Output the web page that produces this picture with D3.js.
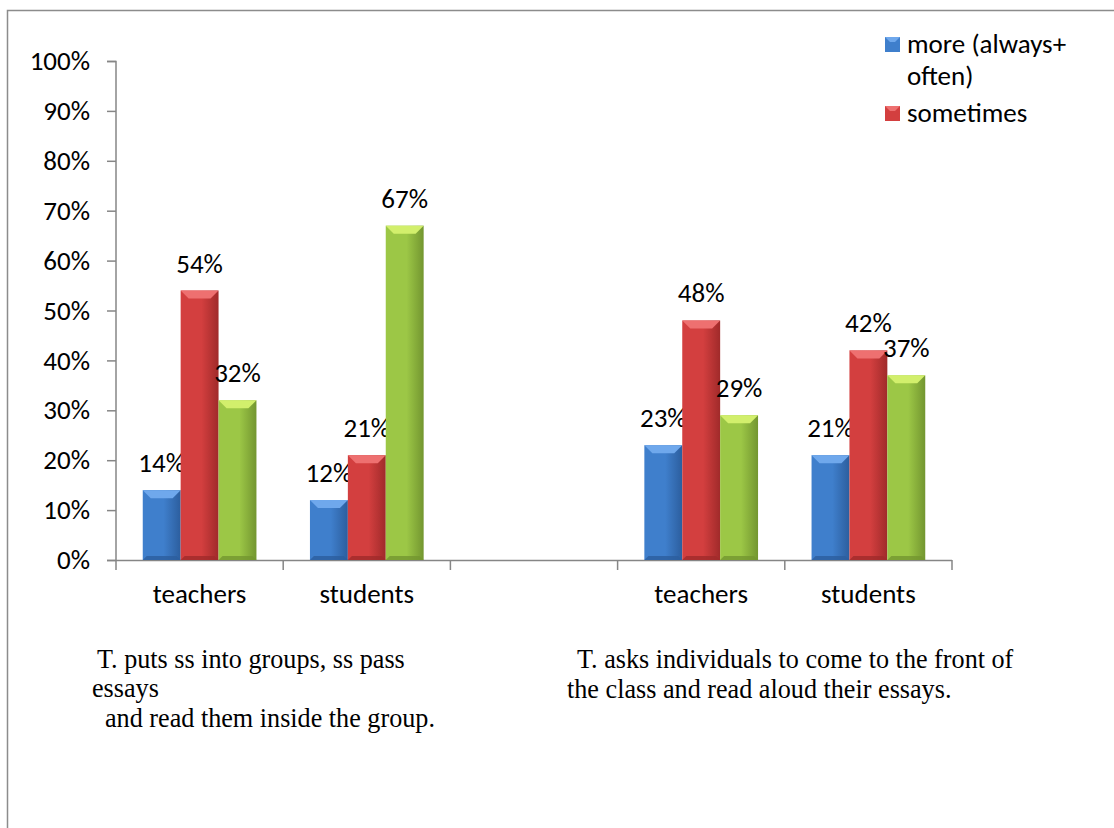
<!DOCTYPE html>
<html>
<head>
<meta charset="utf-8">
<script src="https://cdnjs.cloudflare.com/ajax/libs/d3/7.8.5/d3.min.js"></script>
<style>
  body { margin: 0; background: #fff; }
  svg text { font-family: Calibri, Carlito, Lato, sans-serif; fill: #000; }
  svg text.caption { font-family: "Times New Roman", "Liberation Serif", serif; }
</style>
</head>
<body>
<script>
// chart data
var categories = ["teachers", "students", "", "teachers", "students"];
var seriesNames = ["more (always+ often)", "sometimes", "never"];
var moreValues = [14, 12, null, 23, 21];
var sometimesValues = [54, 21, null, 48, 42];
var neverValues = [32, 67, null, 29, 37];
var yTicks = [0, 10, 20, 30, 40, 50, 60, 70, 80, 90, 100];
var legendLines = [["more (always+", "often)"], ["sometimes"]];
var captionLeft = ["T. puts ss into groups, ss pass", "essays", "and read them inside the group."];
var captionRight = ["T. asks individuals to come to the front of", "the class and read aloud their essays."];

var width = 1114, height = 828;
var fontSize = "27px";
var svg = d3.select("body").append("svg")
    .attr("width", width)
    .attr("height", height);

// outer frame (runs off the right and bottom edges)
svg.append("rect")
    .attr("x", 7.5).attr("y", 10.5)
    .attr("width", 1200).attr("height", 900)
    .attr("fill", "none")
    .attr("stroke", "#8c8c8c")
    .attr("stroke-width", 1.5);

var seriesValues = [moreValues, sometimesValues, neverValues];
var colors = [
    { light: "#6fa8ec", mid: "#3f7fcc", dark: "#2c5e9e" },
    { light: "#ee7070", mid: "#d33f3f", dark: "#a02a2a" },
    { light: "#d2ef6c", mid: "#9cc746", dark: "#739630" }
];

var defs = svg.append("defs");
colors.forEach(function (c, i) {
    var g = defs.append("linearGradient")
        .attr("id", "body" + i)
        .attr("x1", "0%").attr("x2", "100%").attr("y1", "0%").attr("y2", "0%");
    g.append("stop").attr("offset", "0%").attr("stop-color", c.mid);
    g.append("stop").attr("offset", "55%").attr("stop-color", c.mid);
    g.append("stop").attr("offset", "100%").attr("stop-color", c.dark);
});

var x = d3.scaleBand()
    .domain(d3.range(categories.length))
    .range([116, 952]);

var inner = d3.scaleBand()
    .domain(d3.range(seriesNames.length))
    .range([x.bandwidth() * 0.16, x.bandwidth() * 0.84]);

var y = d3.scaleLinear()
    .domain([0, 100])
    .range([560, 61]);

// y axis
var yAxis = svg.append("g")
    .attr("transform", "translate(116,0)")
    .call(d3.axisLeft(y).tickValues(yTicks).tickSize(9).tickPadding(17)
        .tickFormat(function (d) { return d + "%"; }));
yAxis.selectAll("path, line").attr("stroke", "#868686").attr("stroke-width", 1.5);
yAxis.select(".domain").attr("d", "M-9,61.5H0V560.5");
yAxis.selectAll("text").style("font-size", fontSize).attr("fill", "#000")
    .style("font-family", "Calibri, Carlito, Lato, sans-serif");

// x axis with ticks on category boundaries
var xg = svg.append("g");
xg.append("line")
    .attr("x1", 107).attr("x2", 952)
    .attr("y1", 560.5).attr("y2", 560.5)
    .attr("stroke", "#868686").attr("stroke-width", 1.5);
xg.selectAll("line.tick")
    .data(d3.range(categories.length + 1))
    .enter().append("line")
    .attr("class", "tick")
    .attr("x1", function (d) { return 116 + d * x.bandwidth(); })
    .attr("x2", function (d) { return 116 + d * x.bandwidth(); })
    .attr("y1", 560).attr("y2", 570)
    .attr("stroke", "#868686").attr("stroke-width", 1.5);
xg.selectAll("text")
    .data(categories)
    .enter().append("text")
    .attr("x", function (d, i) { return x(i) + x.bandwidth() / 2; })
    .attr("y", 603)
    .attr("text-anchor", "middle")
    .style("font-size", fontSize)
    .text(function (d) { return d; });

// bars
var bars = [];
seriesValues.forEach(function (vals, s) {
    vals.forEach(function (v, i) {
        if (v !== null) bars.push({ s: s, i: i, v: v });
    });
});

var barG = svg.append("g").selectAll("g")
    .data(bars)
    .enter().append("g");

barG.append("rect")
    .attr("x", function (d) { return x(d.i) + inner(d.s); })
    .attr("y", function (d) { return y(d.v); })
    .attr("width", inner.bandwidth())
    .attr("height", function (d) { return y(0) - y(d.v); })
    .attr("fill", function (d) { return "url(#body" + d.s + ")"; });

// top bevel
barG.append("path")
    .attr("d", function (d) {
        var x0 = x(d.i) + inner(d.s), x1 = x0 + inner.bandwidth(), t = y(d.v), b = 8;
        return "M" + x0 + "," + t + "H" + x1 + "L" + (x1 - b) + "," + (t + b) +
            "H" + (x0 + b) + "Z";
    })
    .attr("fill", function (d) { return colors[d.s].light; });

// bottom shade
barG.append("path")
    .attr("d", function (d) {
        var x0 = x(d.i) + inner(d.s), x1 = x0 + inner.bandwidth(), bt = y(0), b = 4;
        return "M" + x0 + "," + bt + "H" + x1 + "L" + (x1 - b) + "," + (bt - b) +
            "H" + (x0 + b) + "Z";
    })
    .attr("fill", function (d) { return colors[d.s].dark; })
    .attr("opacity", 0.8);

// value labels
barG.append("text")
    .attr("x", function (d) { return x(d.i) + inner(d.s) + inner.bandwidth() / 2; })
    .attr("y", function (d) { return y(d.v) - 18; })
    .attr("text-anchor", "middle")
    .style("font-size", fontSize)
    .text(function (d) { return d.v + "%"; });

// legend (only the first two entries are visible)
var legend = svg.append("g");
legendLines.forEach(function (lines, k) {
    var top = [37, 106][k];
    legend.append("rect")
        .attr("x", 885).attr("y", top)
        .attr("width", 15).attr("height", 15)
        .attr("fill", colors[k].mid);
    legend.append("path")
        .attr("d", "M885," + top + "H900L895," + (top + 5) + "H890Z")
        .attr("fill", colors[k].light);
    lines.forEach(function (ln, j) {
        legend.append("text")
            .attr("x", 907).attr("y", top + 16 + j * 32)
            .style("font-size", fontSize)
            .text(ln);
    });
});

// captions below the chart
function caption(lines, pos) {
    lines.forEach(function (ln, j) {
        svg.append("text")
            .attr("class", "caption")
            .attr("transform", "translate(" + pos[j][0] + "," + pos[j][1] + ") scale(0.97,1)")
            .style("font-size", "27px")
            .text(ln);
    });
}
caption(captionLeft, [[97, 668], [92, 697], [105, 727]]);
caption(captionRight, [[577, 668], [567, 698]]);
</script>
</body>
</html>
